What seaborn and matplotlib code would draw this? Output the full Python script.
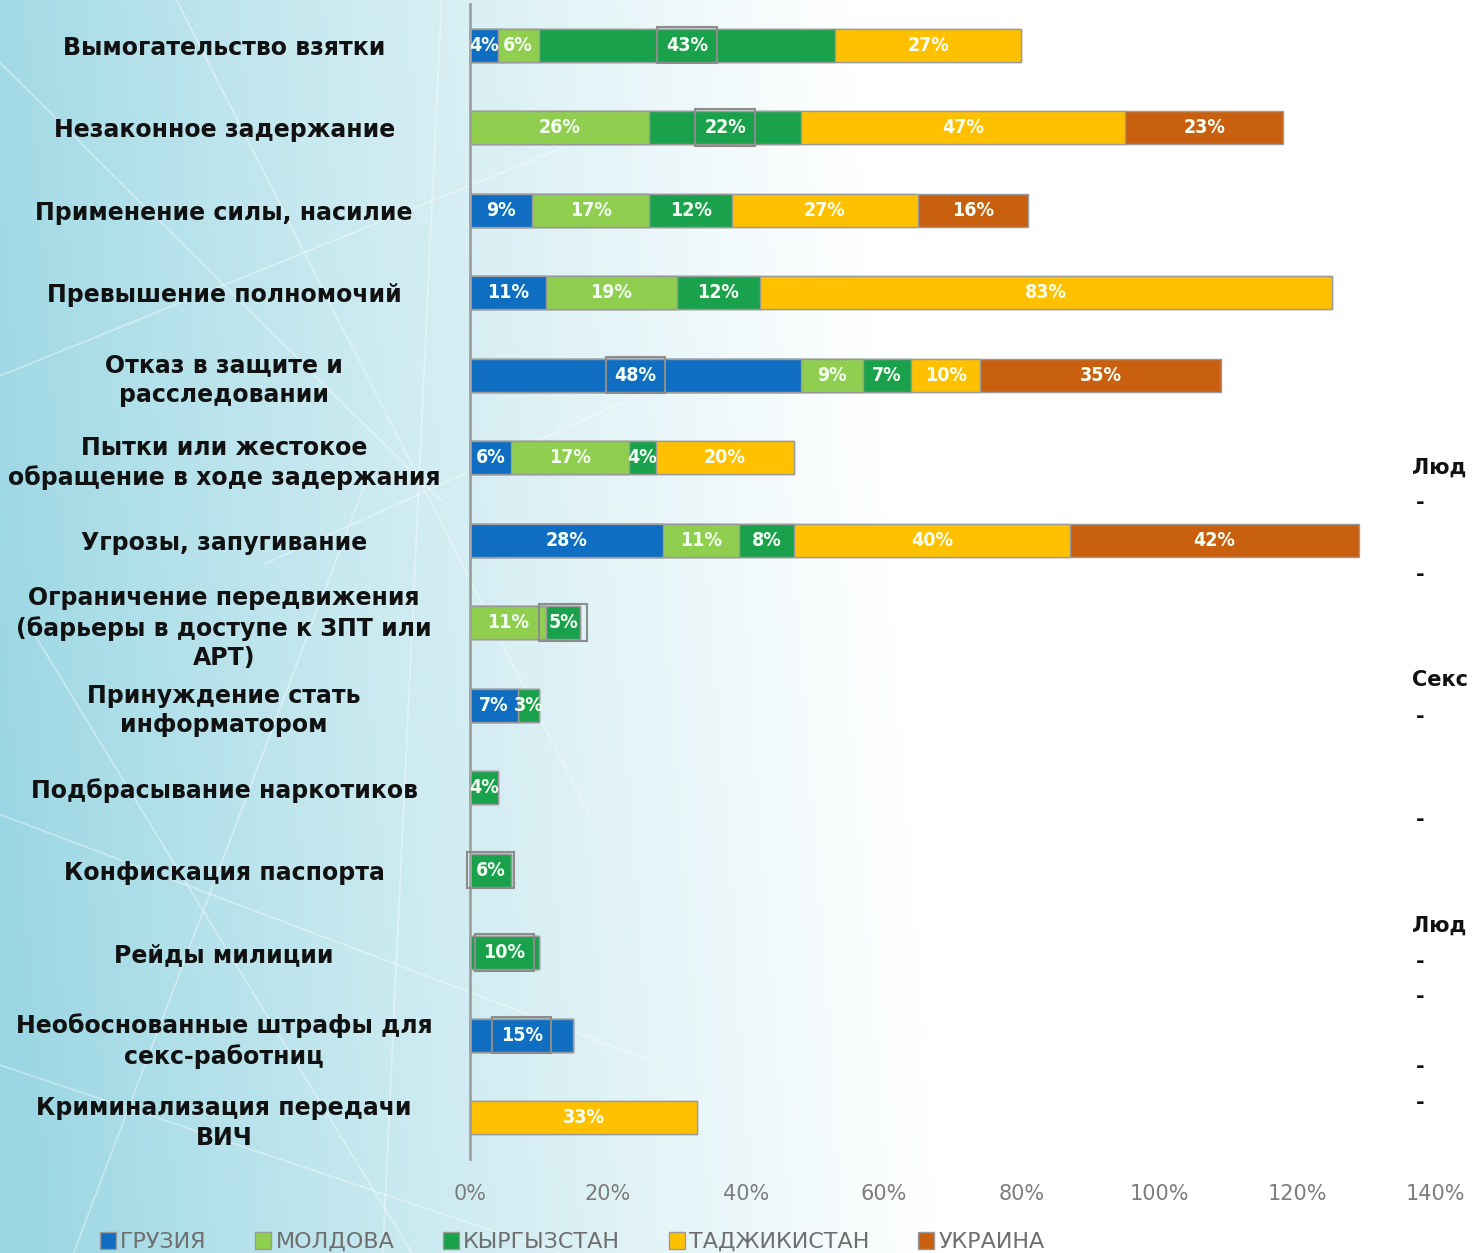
import numpy as np
import pandas as pd
import seaborn as sns
import matplotlib.pyplot as plt
from matplotlib.patches import Patch

# --- Data ---
categories = [
    "Вымогательство взятки",
    "Незаконное задержание",
    "Применение силы, насилие",
    "Превышение полномочий",
    "Отказ в защите и\nрасследовании",
    "Пытки или жестокое\nобращение в ходе задержания",
    "Угрозы, запугивание",
    "Ограничение передвижения\n(барьеры в доступе к ЗПТ или\nАРТ)",
    "Принуждение стать\nинформатором",
    "Подбрасывание наркотиков",
    "Конфискация паспорта",
    "Рейды милиции",
    "Необоснованные штрафы для\nсекс-работниц",
    "Криминализация передачи\nВИЧ",
]
series = ["ГРУЗИЯ", "МОЛДОВА", "КЫРГЫЗСТАН", "ТАДЖИКИСТАН", "УКРАИНА"]
georgia = [4, 0, 9, 11, 48, 6, 28, 0, 7, 0, 0, 0, 15, 0]
moldova = [6, 26, 17, 19, 9, 17, 11, 11, 0, 0, 0, 0, 0, 0]
kyrgyzstan = [43, 22, 12, 12, 7, 4, 8, 5, 3, 4, 6, 10, 0, 0]
tajikistan = [27, 47, 27, 83, 10, 20, 40, 0, 0, 0, 0, 0, 0, 33]
ukraine = [0, 23, 16, 0, 35, 0, 42, 0, 0, 0, 0, 0, 0, 0]
x_ticks = [0, 20, 40, 60, 80, 100, 120, 140]

# labels that carry a grey frame in the original: (category index, series)
boxed = [(0, "КЫРГЫЗСТАН"), (1, "КЫРГЫЗСТАН"), (4, "ГРУЗИЯ"), (7, "КЫРГЫЗСТАН"),
         (10, "КЫРГЫЗСТАН"), (11, "КЫРГЫЗСТАН"), (12, "ГРУЗИЯ")]

colors = {"ГРУЗИЯ": "#0f6ec2", "МОЛДОВА": "#8fce4e", "КЫРГЫЗСТАН": "#1aa14b",
          "ТАДЖИКИСТАН": "#ffc000", "УКРАИНА": "#c9600f"}

# --- Long table with cumulative ends for stacking ---
values = [georgia, moldova, kyrgyzstan, tajikistan, ukraine]
rows = []
for ci, cat in enumerate(categories):
    start = 0
    for s, vals in zip(series, values):
        v = vals[ci]
        rows.append((ci, cat, s, v, start, start + v))
        start += v
df = pd.DataFrame(rows, columns=["idx", "category", "series", "value", "start", "end"])

sns.set_theme(style="white")
plt.rcParams["font.family"] = ["DejaVu Sans"]

fig = plt.figure(figsize=(14.72, 12.53), dpi=100)

# --- Background gradient (teal on the left fading to white) ---
bg = fig.add_axes([0, 0, 1, 1], zorder=-10)
gx, gy = np.meshgrid(np.linspace(0, 1, 400), np.linspace(0, 1, 340))
t = np.clip((gx - 0.02) / 0.62 + 0.10 * gy, 0, 1) ** 0.85
teal = np.array([0.60, 0.84, 0.89])
white = np.array([1.0, 1.0, 1.0])
img = teal[None, None, :] * (1 - t[..., None]) + white[None, None, :] * t[..., None]
bg.imshow(img, extent=[0, 1, 0, 1], aspect="auto", origin="lower")
for (x0, y0, x1, y1) in [(0.0, 0.95, 0.3, 0.6), (0.05, 0.0, 0.25, 0.62), (0.0, 0.35, 0.45, 0.15),
                         (0.12, 1.0, 0.4, 0.35), (0.0, 0.7, 0.42, 0.9), (0.26, 0.0, 0.3, 1.0),
                         (0.0, 0.15, 0.38, 0.0), (0.18, 0.55, 0.5, 0.72), (0.02, 0.5, 0.28, 0.0)]:
    bg.plot([x0, x1], [y0, y1], color="white", lw=1.2, alpha=0.4)
bg.set_xlim(0, 1)
bg.set_ylim(0, 1)
bg.axis("off")

# --- Chart ---
ax = fig.add_axes([470 / 1472, 0.075, 965 / 1472, 0.922])
ax.set_facecolor("none")
for s in reversed(series):
    sub = df[df["series"] == s]
    sns.barplot(data=sub, x="end", y="category", order=categories, orient="h",
                color=colors[s], saturation=1, width=0.4, edgecolor="#9a9a9a",
                linewidth=1, ax=ax)

for _, r in df.iterrows():
    if r["value"] <= 0:
        continue
    box = None
    if (r["idx"], r["series"]) in boxed:
        box = dict(boxstyle="square,pad=0.45", facecolor="none", edgecolor="#8c8c8c", lw=1.5)
    ax.text(r["start"] + r["value"] / 2, r["idx"], f"{r['value']}%", ha="center", va="center",
            color="#f4fff4", fontsize=14, fontweight="bold", fontstretch="condensed",
            bbox=box)

ax.set_xlim(0, 140)
ax.set_ylim(13.5, -0.5)
ax.set_xticks(x_ticks)
ax.set_xticklabels([f"{v}%" for v in x_ticks], color="#7d7d7d", fontsize=15)
ax.set_yticks(range(len(categories)))
ax.set_yticklabels(categories, ha="center", fontsize=17, fontweight="heavy", color="#111111",
                   linespacing=1.3)
ax.tick_params(axis="y", pad=177, length=0)
ax.tick_params(axis="x", pad=18, length=0)
ax.set_xlabel("")
ax.set_ylabel("")
for side in ["top", "right", "bottom"]:
    ax.spines[side].set_visible(False)
ax.spines["left"].set_color("#a0a0a0")
ax.spines["left"].set_linewidth(2)

# --- Legend ---
handles = [Patch(facecolor=colors[s], edgecolor="#9a9a9a", label=s) for s in series]
fig.legend(handles=handles, loc="center left", bbox_to_anchor=(80 / 1472, 11 / 1253),
           ncol=5, frameon=False, fontsize=16, handlelength=0.7, handleheight=0.8,
           handletextpad=0.2, columnspacing=2.2, labelcolor="#6f6f6f")

# --- Cut-off slide text on the right ---
for y, txt in [(468, "Люд"), (680, "Секс"), (926, "Люд")]:
    fig.text(1412 / 1472, 1 - y / 1253, txt, fontsize=15, fontweight="bold", va="center",
             color="#111111")
for y in [503, 575, 717, 820, 962, 997, 1067, 1103]:
    fig.text(1416 / 1472, 1 - y / 1253, "-", fontsize=15, fontweight="bold", va="center",
             color="#111111")

fig.savefig("out.png", dpi=100)
